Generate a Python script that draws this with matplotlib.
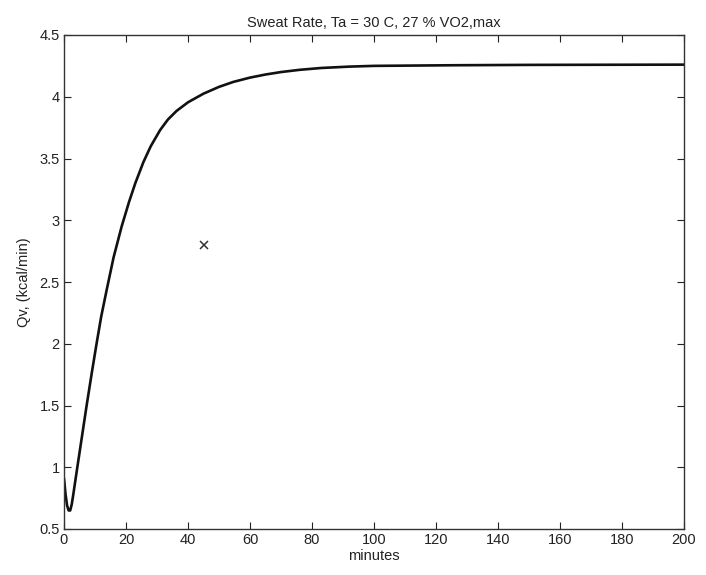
import matplotlib
matplotlib.use("Agg")
import matplotlib.pyplot as plt

# Data
t_min = [0, 0.5, 1, 1.5, 2, 2.5, 3, 4.3, 5.5, 7.3, 9, 10.5, 12, 13.8, 16, 18.6,
         21, 23, 25.6, 28, 31, 33.5, 36.3, 40, 45, 50, 54.6, 60, 65, 70, 76,
         83, 92, 100, 110, 125, 150, 200]
qv = [0.91, 0.78, 0.69, 0.65, 0.65, 0.70, 0.78, 1.0, 1.2, 1.5, 1.77, 2.0, 2.22,
      2.44, 2.70, 2.95, 3.15, 3.30, 3.47, 3.60, 3.73, 3.815, 3.885, 3.955, 4.025,
      4.08, 4.12, 4.155, 4.18, 4.20, 4.218, 4.233, 4.244, 4.25, 4.252, 4.255,
      4.258, 4.26]
marker_t = [45]
marker_v = [2.8]

title = "Sweat Rate, Ta = 30 C, 27 % VO2,max"
xlabel = "minutes"
ylabel = "Qv, (kcal/min)"
xticks = [0, 20, 40, 60, 80, 100, 120, 140, 160, 180, 200]
yticks = [0.5, 1, 1.5, 2, 2.5, 3, 3.5, 4, 4.5]
yticklabels = ["0.5", "1", "1.5", "2", "2.5", "3", "3.5", "4", "4.5"]

plt.rcParams['font.family'] = ['Liberation Sans', 'DejaVu Sans']

fig = plt.figure(figsize=(7.06, 5.75), dpi=100)
ax = fig.add_axes([64/706, 1-529/575, (684-64)/706, (529-35)/575])

ax.plot(t_min, qv, color='#111111', lw=1.9, solid_joinstyle='round',
        solid_capstyle='round')
ax.plot(marker_t, marker_v, linestyle='none', marker='x', color='#333333',
        markersize=6, markeredgewidth=1.1)

ax.set_xlim(0, 200)
ax.set_ylim(0.5, 4.5)
ax.set_xticks(xticks)
ax.set_yticks(yticks)
ax.set_yticklabels(yticklabels)
ax.tick_params(direction='in', top=True, right=True, length=5, width=0.8,
               labelsize=10.5, colors='#222222', pad=3)
for s in ax.spines.values():
    s.set_linewidth(1.0)
    s.set_color('#333333')

ax.set_title(title, fontsize=10.5, color='#222222', pad=6)
ax.set_xlabel(xlabel, fontsize=10.5, color='#222222', labelpad=1)
ax.set_ylabel(ylabel, fontsize=10.5, color='#222222', labelpad=6)

fig.savefig("out.png", dpi=100)
